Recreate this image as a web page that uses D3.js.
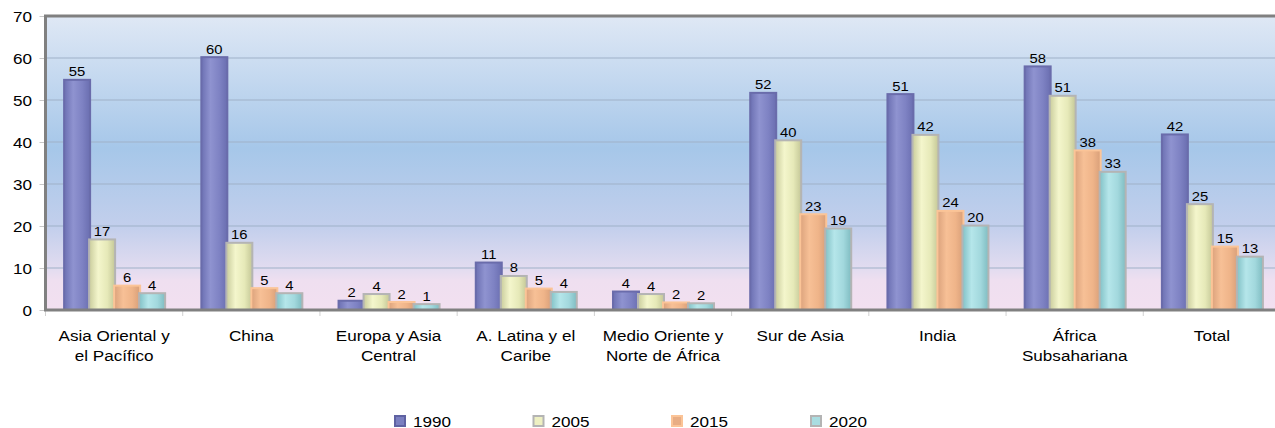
<!DOCTYPE html>
<html><head><meta charset="utf-8">
<script src="https://cdn.jsdelivr.net/npm/d3@7"></script>
<style>
html,body{margin:0;padding:0;background:#fff;overflow:hidden}
text{font-family:"Liberation Sans",Arial,sans-serif;fill:#000}
</style></head>
<body><svg id="c" width="1275" height="428"></svg>
<script>
const categories = [
  ["Asia Oriental y","el Pacífico"],
  ["China"],
  ["Europa y Asia","Central"],
  ["A. Latina y el","Caribe"],
  ["Medio Oriente y","Norte de África"],
  ["Sur de Asia"],
  ["India"],
  ["África","Subsahariana"],
  ["Total"]
];
const seriesNames = ["1990","2005","2015","2020"];
const v1990 = [54.8, 60.2, 2.2, 11.3, 4.4, 51.7, 51.4, 58.0, 41.8];
const v2005 = [16.8, 16.0, 3.8, 8.1, 3.8, 40.4, 41.7, 51.0, 25.2];
const v2015 = [5.8, 5.2, 1.9, 5.1, 1.8, 22.8, 23.6, 38.0, 15.1];
const v2020 = [4.0, 4.0, 1.4, 4.3, 1.6, 19.4, 20.1, 32.9, 12.7];
const yTicks = [0,10,20,30,40,50,60,70];

const seriesValues = [v1990, v2005, v2015, v2020];
const styles = [
  {stops:["#6c70b2","#8f93d0","#7e82c3","#6a6eb0"], stroke:"#6a6cab", legFill:"#7b7fc0", legStroke:"#5f62a2"},
  {stops:["#c9cc9c","#f4f6cc","#e6e9b8","#c4c797"], stroke:"#b4b4b4", legFill:"#eef0c2", legStroke:"#b4b4b4"},
  {stops:["#dba27c","#f7c096","#efb489","#d89f79"], stroke:"#fbc497", legFill:"#e8ad84", legStroke:"#fbc497"},
  {stops:["#82c1c6","#b5e6ea","#a2d8dd","#7fbcc1"], stroke:"#b4b4b4", legFill:"#a9dde1", legStroke:"#b4b4b4"}
];

const svg = d3.select("#c");
const defs = svg.append("defs");
const L = 45.5, T = 16, B = 310, R = 1280.5;
const SX = 1.14;

const bg = defs.append("linearGradient").attr("id","bg").attr("x1",0).attr("y1",0).attr("x2",0).attr("y2",1);
[[0,"#dfe8f5"],[0.45,"#a6c7e9"],[0.72,"#c3cfec"],[0.86,"#e2dcf0"],[0.9,"#efdff0"],[1,"#f2e0f0"]]
  .forEach(s=>bg.append("stop").attr("offset",s[0]).attr("stop-color",s[1]));

styles.forEach((s,i)=>{
  const g = defs.append("linearGradient").attr("id","bar"+i).attr("x1",0).attr("y1",0).attr("x2",1).attr("y2",0);
  [0,0.35,0.7,1].forEach((o,k)=>g.append("stop").attr("offset",o).attr("stop-color",s.stops[k]));
});

const y = d3.scaleLinear().domain([0,70]).range([B,T]);
const x0 = d3.scaleBand().domain(d3.range(categories.length)).range([L,R]).padding(0);
const x1 = d3.scaleBand().domain(d3.range(seriesNames.length)).range([0,x0.bandwidth()]).paddingInner(0).paddingOuter(0.744);

function stext(parent, x, yy, str, size, anchor){
  const g = parent.append("g").attr("transform",`translate(${x},${yy}) scale(${SX},1)`);
  g.append("text").attr("text-anchor",anchor||"middle").attr("font-size",size).text(str);
  return g;
}

// plot background
svg.append("rect").attr("x",L).attr("y",T).attr("width",R-L).attr("height",B-T).attr("fill","url(#bg)");

// gridlines
svg.append("g").selectAll("line").data(yTicks.filter(t=>t>0&&t<70)).join("line")
  .attr("x1",L).attr("x2",R).attr("y1",d=>y(d)).attr("y2",d=>y(d))
  .attr("stroke","#9fb1c8").attr("stroke-width",1);

// y axis via d3
const yAxis = svg.append("g").attr("transform",`translate(${L},0)`)
  .call(d3.axisLeft(y).tickValues(yTicks).tickSize(6).tickFormat(""));
yAxis.select(".domain").remove();
yAxis.selectAll(".tick line").attr("stroke","#c8c8c8");
yTicks.forEach(t=>stext(svg, 32, y(t)+5.5, String(t), 15, "end"));

// x axis ticks
const bounds = d3.range(categories.length+1).map(i=> i<categories.length ? x0(i) : x0(i-1)+x0.bandwidth());
svg.append("g").selectAll("line").data(bounds).join("line")
  .attr("x1",d=>d).attr("x2",d=>d).attr("y1",B).attr("y2",B+6).attr("stroke","#d0d0d0");

// bars
const bw = x1.bandwidth()+1;
seriesValues.forEach((vals,si)=>{
  const g = svg.append("g");
  g.selectAll("rect").data(vals).join("rect")
    .attr("x",(d,i)=>x0(i)+x1(si))
    .attr("y",d=>y(d))
    .attr("width",bw)
    .attr("height",d=>B-y(d))
    .attr("fill","url(#bar"+si+")")
    .attr("stroke",styles[si].stroke).attr("stroke-width",2);
});
// value labels
seriesValues.forEach((vals,si)=>{
  vals.forEach((v,i)=>{
    stext(svg, x0(i)+x1(si)+bw/2, y(v)-3.5, String(Math.round(v)), 13, "middle");
  });
});

// frame
svg.append("line").attr("x1",L-1.5).attr("x2",R).attr("y1",T).attr("y2",T).attr("stroke","#808080").attr("stroke-width",3);
svg.append("line").attr("x1",L).attr("x2",L).attr("y1",T).attr("y2",B).attr("stroke","#808080").attr("stroke-width",3);
svg.append("line").attr("x1",L-1.5).attr("x2",R).attr("y1",B).attr("y2",B).attr("stroke","#808080").attr("stroke-width",3);

// category labels
categories.forEach((lines,i)=>{
  const cx = x0(i)+x0.bandwidth()/2;
  lines.forEach((ln,k)=>stext(svg, cx, 340.5+k*20, ln, 15, "middle"));
});

// legend
const legX = [394, 532.5, 671, 810];
seriesNames.forEach((n,i)=>{
  svg.append("rect").attr("x",legX[i]+1).attr("y",416).attr("width",10).attr("height",10)
    .attr("fill",styles[i].legFill).attr("stroke",styles[i].legStroke).attr("stroke-width",2);
  stext(svg, legX[i]+19, 426.5, n, 15, "start");
});
</script></body></html>
